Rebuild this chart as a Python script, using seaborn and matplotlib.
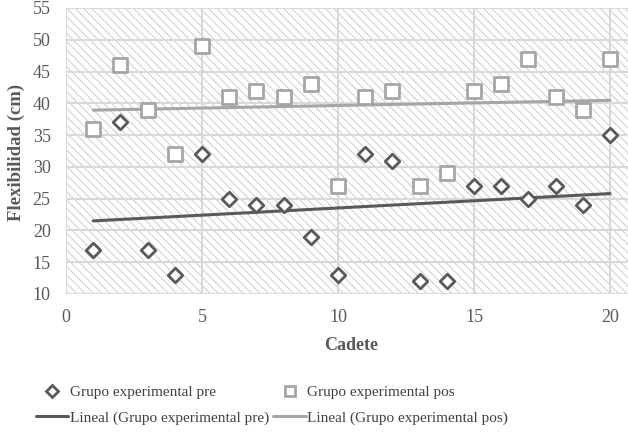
import numpy as np
import pandas as pd
import matplotlib
matplotlib.use("Agg")
import matplotlib.pyplot as plt
import seaborn as sns
from matplotlib.lines import Line2D

cadete = list(range(1, 21))
pre = [17, 37, 17, 13, 32, 25, 24, 24, 19, 13, 32, 31, 12, 12, 27, 27, 25, 27, 24, 35]
pos = [36, 46, 39, 32, 49, 41, 42, 41, 43, 27, 41, 42, 27, 29, 42, 43, 47, 41, 39, 47]
xticks = [0, 5, 10, 15, 20]
yticks = [10, 15, 20, 25, 30, 35, 40, 45, 50, 55]

df = pd.DataFrame({"Cadete": cadete, "pre": pre, "pos": pos})

sns.set_style("white")
plt.rcParams["font.family"] = ["Liberation Serif", "DejaVu Serif"]
plt.rcParams["hatch.linewidth"] = 0.8

DARK = "#595959"
LIGHT = "#a6a6a6"
GRID = "#d9d9d9"

fig = plt.figure(figsize=(6.28, 4.38), dpi=100)
ax = fig.add_axes([66 / 628, 1 - 294 / 438, (628 - 66) / 628, (294 - 8) / 438])

ax.patch.set_facecolor("white")
ax.patch.set_hatch("\\\\\\\\")
ax.patch.set_edgecolor("#d2d2d2")
ax.patch.set_linewidth(0)

sns.regplot(data=df, x="Cadete", y="pre", ax=ax, scatter=False, ci=None,
            line_kws=dict(color=DARK, lw=2.2, zorder=3))
sns.regplot(data=df, x="Cadete", y="pos", ax=ax, scatter=False, ci=None,
            line_kws=dict(color=LIGHT, lw=2.2, zorder=3))
sns.scatterplot(data=df, x="Cadete", y="pre", ax=ax, marker="D", s=55,
                facecolor="white", edgecolor=DARK, linewidth=2, zorder=4)
sns.scatterplot(data=df, x="Cadete", y="pos", ax=ax, marker="s", s=110,
                facecolor="white", edgecolor=LIGHT, linewidth=2, zorder=4)

ax.set_xlim(0, (628 - 66) / 27.2)
ax.set_ylim(10, 55)
ax.set_xticks(xticks)
ax.set_yticks(yticks)
ax.grid(True, color=GRID, lw=1.5, zorder=1)
ax.set_axisbelow(True)
for s in ax.spines.values():
    s.set_visible(False)
ax.tick_params(axis="both", length=0, colors=DARK, labelsize=13)
ax.tick_params(axis="x", pad=11)
ax.tick_params(axis="y", pad=11)
ax.set_xlabel("Cadete", fontsize=13, fontweight="bold", color=DARK)
ax.set_ylabel("Flexibilidad (cm)", fontsize=13.5, fontweight="bold", color=DARK)
ax.xaxis.set_label_coords((351 - 66) / 562, -(337 - 294) / 286)
ax.yaxis.set_label_coords((25 - 66) / 562, (294 - 152) / 286)

handles = [
    Line2D([], [], marker="D", ls="none", mfc="white", mec=DARK, mew=2, ms=6),
    Line2D([], [], color=DARK, lw=2.2),
    Line2D([], [], marker="s", ls="none", mfc="white", mec=LIGHT, mew=2, ms=7),
    Line2D([], [], color=LIGHT, lw=2.2),
]
labels = ["Grupo experimental pre", "Lineal (Grupo experimental pre)",
          "Grupo experimental pos", "Lineal (Grupo experimental pos)"]
fig.legend(handles, labels, ncol=2, loc="center", bbox_to_anchor=(272 / 628, 1 - 405 / 438),
           frameon=False, fontsize=11, labelcolor="#404040", handlelength=2.1,
           handletextpad=0.1, columnspacing=0.3, labelspacing=0.75)

fig.savefig("out.png", dpi=100)
